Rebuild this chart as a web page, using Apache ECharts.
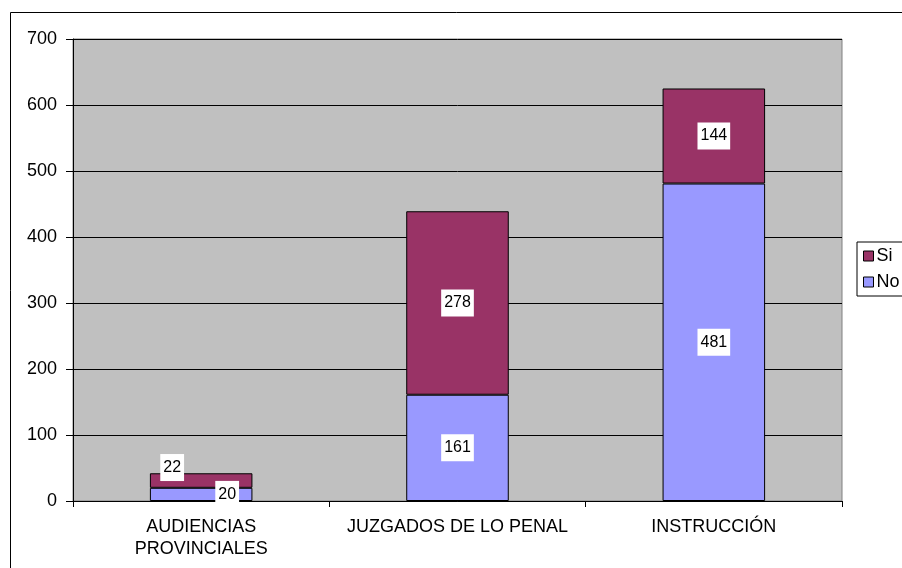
<!DOCTYPE html>
<html>
<head>
<meta charset="utf-8">
<script src="https://cdn.jsdelivr.net/npm/echarts@6/dist/echarts.min.js"></script>
<style>
  html, body { margin: 0; padding: 0; background: #fff; }
  #chart { width: 902px; height: 568px; }
</style>
</head>
<body>
<div id="chart"></div>
<script>
var categories = ['AUDIENCIAS\nPROVINCIALES', 'JUZGADOS DE LO PENAL', 'INSTRUCCIÓN'];
var noValues = [20, 161, 481];
var siValues = [22, 278, 144];
var yTicks = [0, 100, 200, 300, 400, 500, 600, 700];

var font = 'Liberation Sans, Arial, sans-serif';

function labelStyle() {
    return {
        show: true,
        position: 'inside',
        color: '#000',
        fontFamily: font,
        fontSize: 16,
        backgroundColor: '#fff',
        padding: [6, 3, 5, 3]
    };
}

var noData = noValues.map(function (v, i) {
    var d = { value: v };
    if (i === 0) d.label = { offset: [26, 0] };
    return d;
});
var siData = siValues.map(function (v, i) {
    var d = { value: v };
    if (i === 0) d.label = { offset: [-29, -13] };
    return d;
});

var chart = echarts.init(document.getElementById('chart'));
chart.setOption({
    animation: false,
    backgroundColor: '#fff',
    textStyle: { fontFamily: font },
    graphic: [{
        type: 'rect',
        shape: { x: 10.5, y: 12.5, width: 900, height: 560 },
        style: { fill: 'none', stroke: '#000', lineWidth: 1 }
    }],
    grid: {
        left: 73, top: 39, right: 60, bottom: 67,
        show: true,
        backgroundColor: '#c0c0c0',
        borderColor: '#808080',
        borderWidth: 1
    },
    legend: {
        orient: 'vertical',
        left: 857, top: 242,
        data: ['Si', 'No'],
        icon: 'rect',
        itemWidth: 10, itemHeight: 10,
        itemGap: 8,
        padding: [5, 40, 5, 6],
        borderColor: '#000',
        borderWidth: 1,
        backgroundColor: '#fff',
        itemStyle: { borderColor: '#000', borderWidth: 1 },
        textStyle: { fontSize: 18, color: '#000', fontFamily: font, padding: [0, 0, 0, -2] }
    },
    xAxis: {
        type: 'category',
        data: categories,
        axisLine: { lineStyle: { color: '#000', width: 1 } },
        axisTick: { show: true, length: 6, lineStyle: { color: '#000' } },
        axisLabel: { color: '#000', fontSize: 18, lineHeight: 22, margin: 15, interval: 0, fontFamily: font }
    },
    yAxis: {
        type: 'value',
        min: 0, max: 700, interval: 100,
        axisLine: { show: true, lineStyle: { color: '#000', width: 1 } },
        axisTick: { show: true, length: 7, lineStyle: { color: '#000' } },
        axisLabel: { color: '#000', fontSize: 18, margin: 16, fontFamily: font,
            formatter: function (v) { return yTicks.indexOf(v) >= 0 ? String(v) : ''; } },
        splitLine: { show: true, lineStyle: { color: '#000', width: 1 } }
    },
    series: [{
        name: 'No',
        type: 'bar',
        stack: 'total',
        barWidth: '40%',
        data: noData,
        itemStyle: { color: '#9999ff', borderColor: '#000', borderWidth: 1 },
        label: labelStyle()
    }, {
        name: 'Si',
        type: 'bar',
        stack: 'total',
        barWidth: '40%',
        data: siData,
        itemStyle: { color: '#993366', borderColor: '#000', borderWidth: 1 },
        label: labelStyle()
    }]
});
</script>
</body>
</html>
